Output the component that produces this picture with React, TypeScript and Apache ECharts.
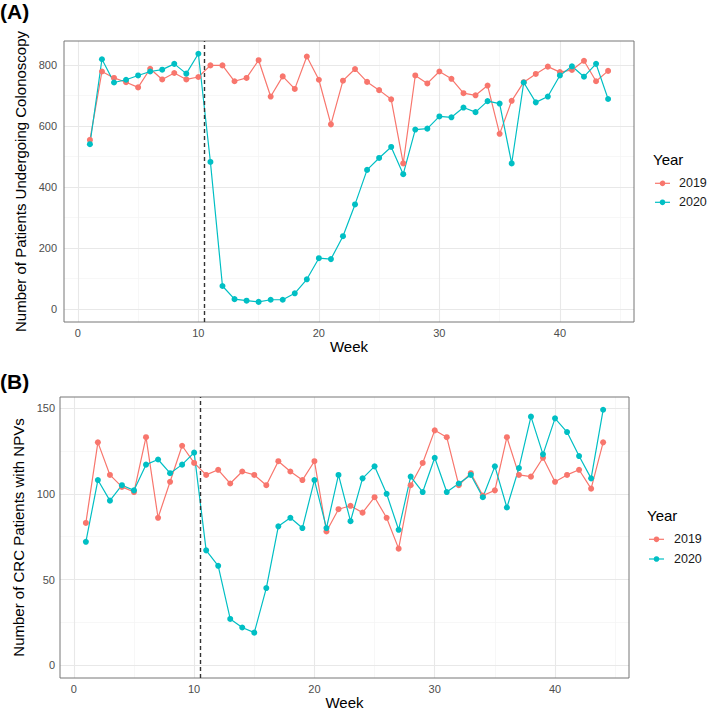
import React, { useEffect, useRef } from "react";
import * as echarts from "echarts";

const weeks = [1, 2, 3, 4, 5, 6, 7, 8, 9, 10, 11, 12, 13, 14, 15, 16, 17, 18, 19, 20, 21, 22, 23, 24, 25, 26, 27, 28, 29, 30, 31, 32, 33, 34, 35, 36, 37, 38, 39, 40, 41, 42, 43, 44];

const colonoscopy2019 = [554, 778, 757, 743, 726, 787, 752, 773, 752, 760, 798, 798, 746, 757, 815, 696, 762, 721, 827, 751, 605, 748, 786, 744, 717, 687, 477, 765, 739, 778, 754, 707, 700, 732, 574, 682, 743, 770, 794, 776, 783, 813, 746, 780];
const colonoscopy2020 = [540, 818, 742, 751, 765, 778, 784, 803, 771, 836, 482, 76, 33, 28, 24, 31, 31, 52, 98, 167, 164, 239, 343, 456, 495, 531, 442, 588, 591, 631, 628, 660, 645, 681, 673, 477, 742, 677, 696, 765, 795, 761, 803, 688];

const npv2019 = [83, 130, 111, 104, 101, 133, 86, 107, 128, 118, 111, 114, 106, 113, 111, 105, 119, 113, 108, 119, 78, 91, 93, 89, 98, 86, 68, 105, 118, 137, 133, 105, 112, 99, 102, 133, 111, 110, 121, 107, 111, 114, 103, 130];
const npv2020 = [72, 108, 96, 105, 102, 117, 120, 112, 117, 124, 67, 58, 27, 22, 19, 45, 81, 86, 80, 108, 80, 111, 84, 109, 116, 100, 79, 110, 101, 121, 101, 106, 111, 98, 116, 92, 115, 145, 123, 144, 136, 122, 109, 149];

const years = ["2019", "2020"];
const yearColors = ["#F8766D", "#00BFC4"];
const xTicks = [0, 10, 20, 30, 40];
const xMinorTicks = [5, 15, 25, 35, 45];
const yTicksA = [0, 200, 400, 600, 800];
const yMinorTicksA = [100, 300, 500, 700];
const yTicksB = [0, 50, 100, 150];
const yMinorTicksB = [25, 75, 125];
const lockdownWeek = 10.5;

const FONT = "'Liberation Sans', Arial, Helvetica, sans-serif";

function gridLineData(xMaj: number[], xMin: number[], yMaj: number[], yMin: number[]) {
  const major = { color: "#e8e8e8", width: 1.1, type: "solid" };
  const minor = { color: "#f3f3f3", width: 0.7, type: "solid" };
  return [
    ...xMin.map((v) => ({ xAxis: v, lineStyle: minor })),
    ...yMin.map((v) => ({ yAxis: v, lineStyle: minor })),
    ...xMaj.map((v) => ({ xAxis: v, lineStyle: major })),
    ...yMaj.map((v) => ({ yAxis: v, lineStyle: major })),
  ];
}

function helperSeries(idx: number, data: any[], z: number) {
  return {
    type: "line",
    xAxisIndex: idx,
    yAxisIndex: idx,
    data: [],
    silent: true,
    z,
    markLine: {
      silent: true,
      z,
      symbol: ["none", "none"],
      label: { show: false },
      emphasis: { disabled: true },
      animation: false,
      data,
    },
  };
}

function dataSeries(name: string, idx: number, values: number[], color: string) {
  return {
    name,
    type: "line",
    xAxisIndex: idx,
    yAxisIndex: idx,
    data: weeks.map((w, i) => [w, values[i]]),
    symbol: "circle",
    symbolSize: 6,
    showSymbol: true,
    itemStyle: { color, borderWidth: 0, borderColor: color },
    lineStyle: { color, width: 1.2 },
    emphasis: { disabled: true },
    z: 3,
  };
}

function xAxis(idx: number, gap: number, margin: number) {
  return {
    gridIndex: idx,
    type: "value",
    min: -1.15,
    max: 46.15,
    splitNumber: 5,
    axisLine: { show: false },
    axisTick: { show: true, length: 3, lineStyle: { color: "#333", width: 1 }, customValues: xTicks },
    axisLabel: { color: "#4d4d4d", fontSize: 11, fontFamily: FONT, margin, customValues: xTicks },
    splitLine: { show: false },
    name: "Week",
    nameLocation: "middle",
    nameGap: gap,
    nameTextStyle: { fontSize: 15, color: "#000", fontFamily: FONT },
  };
}

function yAxis(idx: number, min: number, max: number, split: number, ticks: number[], name: string, gap: number, margin: number) {
  return {
    gridIndex: idx,
    type: "value",
    min,
    max,
    splitNumber: split,
    axisLine: { show: false },
    axisTick: { show: true, length: 3, lineStyle: { color: "#333", width: 1 }, customValues: ticks },
    axisLabel: { color: "#4d4d4d", fontSize: 11, fontFamily: FONT, margin, customValues: ticks },
    splitLine: { show: false },
    name,
    nameLocation: "middle",
    nameGap: gap,
    nameTextStyle: { fontSize: 15, color: "#000", fontFamily: FONT },
  };
}

function legendGraphic(titleLeft: number, titleTop: number, keyLeft: number, textLeft: number, ys: number[]) {
  const els: any[] = [
    { type: "text", left: titleLeft, top: titleTop, style: { text: "Year", font: `15px ${FONT}`, fill: "#000" } },
  ];
  years.forEach((y, i) => {
    const cy = ys[i];
    els.push({ type: "line", shape: { x1: keyLeft, y1: cy, x2: keyLeft + 15, y2: cy }, style: { stroke: yearColors[i], lineWidth: 1.2 } });
    els.push({ type: "circle", shape: { cx: keyLeft + 7.5, cy, r: 2.8 }, style: { fill: yearColors[i] } });
    els.push({ type: "text", x: textLeft, y: cy, style: { text: y, font: `12.5px ${FONT}`, fill: "#1a1a1a", verticalAlign: "middle", align: "left" } });
  });
  return els;
}

export default function App() {
  const ref = useRef<HTMLDivElement>(null);
  useEffect(() => {
    document.body.style.margin = "0";
    if (!ref.current) return;
    const chart = echarts.init(ref.current, undefined, { renderer: "svg" });
    chart.setOption({
      animation: false,
      backgroundColor: "#fff",
      grid: [
        { left: 64, top: 41, width: 570, height: 281, show: true, borderColor: "#777", borderWidth: 1, backgroundColor: "transparent", z: 5 },
        { left: 60, top: 397, width: 569, height: 281, show: true, borderColor: "#777", borderWidth: 1, backgroundColor: "transparent", z: 5 },
      ],
      xAxis: [xAxis(0, 16, 5), xAxis(1, 17, 5)],
      yAxis: [
        yAxis(0, -41.8, 877.8, 5, yTicksA, "Number of Patients Undergoing Colonoscopy", 32, 7),
        yAxis(1, -7.45, 156.45, 3, yTicksB, "Number of CRC Patients with NPVs", 30, 5),
      ],
      graphic: [
        { type: "text", left: 0, top: 1, style: { text: "(A)", font: `bold 21px ${FONT}`, fill: "#000" } },
        { type: "text", left: 0, top: 371, style: { text: "(B)", font: `bold 21px ${FONT}`, fill: "#000" } },
        ...legendGraphic(653, 152, 655, 679, [183.3, 202.3]),
        ...legendGraphic(647, 508, 649, 674, [539.3, 559]),
      ],
      series: [
        helperSeries(0, gridLineData(xTicks, xMinorTicks, yTicksA, yMinorTicksA), 1),
        helperSeries(1, gridLineData(xTicks, xMinorTicks, yTicksB, yMinorTicksB), 1),
        dataSeries(years[0], 0, colonoscopy2019, yearColors[0]),
        dataSeries(years[1], 0, colonoscopy2020, yearColors[1]),
        dataSeries(years[0], 1, npv2019, yearColors[0]),
        dataSeries(years[1], 1, npv2020, yearColors[1]),
        helperSeries(0, [{ xAxis: lockdownWeek, lineStyle: { color: "#333", width: 1.4, type: [4, 3] } }], 6),
        helperSeries(1, [{ xAxis: lockdownWeek, lineStyle: { color: "#333", width: 1.4, type: [4, 3] } }], 6),
      ],
    });
    return () => chart.dispose();
  }, []);
  return <div ref={ref} style={{ width: 709, height: 712 }} />;
}
